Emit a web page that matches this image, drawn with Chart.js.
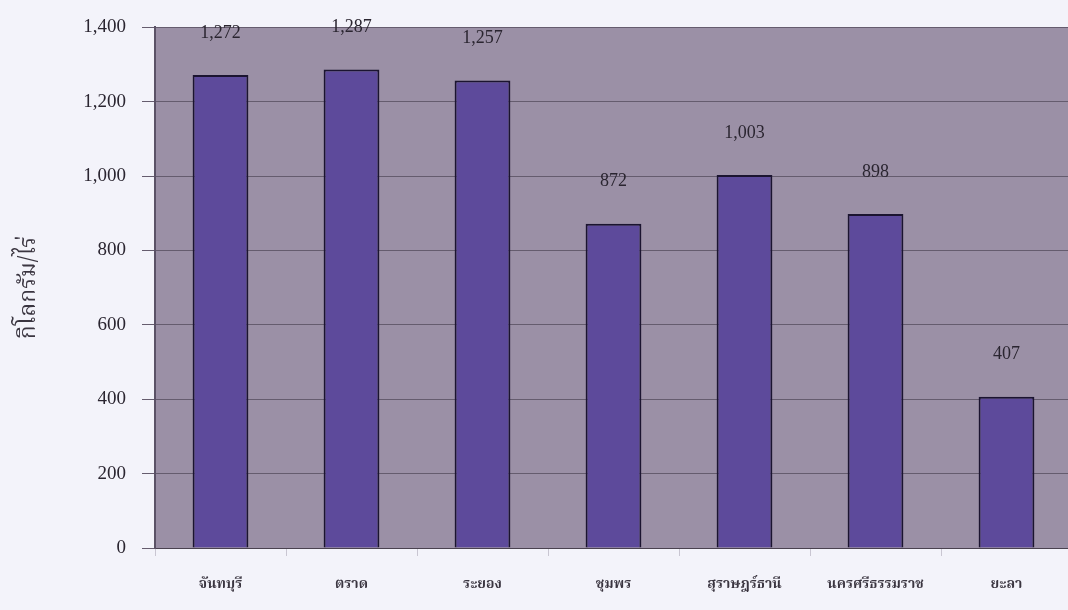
<!DOCTYPE html>
<html>
<head>
<meta charset="utf-8">
<script src="https://cdn.jsdelivr.net/npm/chart.js@4.4.0/dist/chart.umd.min.js"></script>
<style>
  html, body { margin: 0; padding: 0; background: #f3f3fa; overflow: hidden; }
  #wrap { width: 1072px; height: 610px; }
</style>
</head>
<body>
<div id="wrap"><canvas id="c"></canvas></div>
<script>
// provinces and yield (kg per rai)
const provinces = ['จันทบุรี', 'ตราด', 'ระยอง', 'ชุมพร', 'สุราษฎร์ธานี', 'นครศรีธรรมราช', 'ยะลา'];
const yieldKg = [1272, 1287, 1257, 872, 1003, 898, 407];
const yTicks = [0, 200, 400, 600, 800, 1000, 1200, 1400];

const serif = '"Liberation Serif", "DejaVu Serif", serif';
const thai = '"Noto Serif Thai", "Noto Sans Thai", "Loma", "Garuda", "Noto Sans", sans-serif';

// grey-purple plot background
const plotBg = {
    id: 'plotBg',
    beforeDraw(chart) {
        const a = chart.chartArea, ctx = chart.ctx;
        ctx.save();
        ctx.fillStyle = '#9b90a6';
        ctx.fillRect(a.left, a.top, a.right - a.left, a.bottom - a.top);
        ctx.restore();
    }
};

// value labels above each bar
const valueLabels = {
    id: 'valueLabels',
    afterDatasetsDraw(chart) {
        const ctx = chart.ctx;
        const meta = chart.getDatasetMeta(0);
        ctx.save();
        ctx.font = '18px ' + serif;
        ctx.fillStyle = '#2a2530';
        ctx.textAlign = 'center';
        ctx.textBaseline = 'middle';
        meta.data.forEach((bar, i) => {
            ctx.fillText(yieldKg[i].toLocaleString('en-US'), bar.x, bar.y - 42);
        });
        ctx.restore();
    }
};

new Chart(document.getElementById('c'), {
    type: 'bar',
    data: {
        labels: provinces,
        datasets: [{
            data: yieldKg,
            backgroundColor: '#5d4a9b',
            borderColor: '#1b1430',
            borderWidth: 2,
            barPercentage: 0.6,
            categoryPercentage: 0.71
        }]
    },
    options: {
        responsive: true,
        maintainAspectRatio: false,
        animation: false,
        layout: { padding: { top: 24, right: 0, bottom: 0, left: 0 } },
        plugins: { legend: { display: false }, tooltip: { enabled: false } },
        scales: {
            x: {
                grid: { drawOnChartArea: false, color: '#c9c6d2', tickLength: 8, offset: true },
                border: { color: '#4a4250', width: 1 },
                ticks: { color: '#3a3540', font: { family: thai, size: 14, weight: 'bold' }, padding: 21 },
                afterFit(scale) { scale.height = 62; }
            },
            y: {
                min: 0,
                max: 1400,
                afterBuildTicks(scale) { scale.ticks = yTicks.map(v => ({ value: v })); },
                grid: { color: '#655c6e', lineWidth: 1, tickLength: 13 },
                border: { color: '#5b5266', width: 2 },
                ticks: {
                    color: '#2a2530',
                    font: { family: serif, size: 19 },
                    padding: 16,
                    callback: v => v.toLocaleString('en-US')
                },
                title: {
                    display: true,
                    text: 'กิโลกรัม/ไร่',
                    color: '#3a3540',
                    font: { family: thai, size: 23 },
                    padding: { top: 17, bottom: 0 }
                },
                afterFit(scale) { scale.width = 155; }
            }
        }
    },
    plugins: [plotBg, valueLabels]
});
</script>
</body>
</html>
